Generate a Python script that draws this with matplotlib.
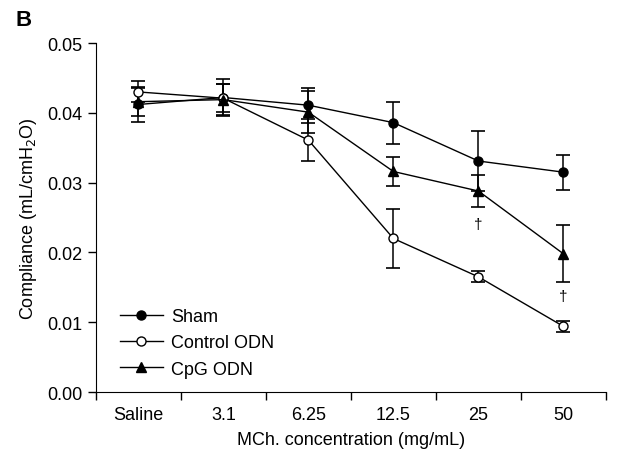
import matplotlib
matplotlib.use('Agg')
import matplotlib.pyplot as plt
from matplotlib.lines import Line2D
import numpy as np

plt.rcParams['font.family'] = ['Liberation Sans', 'DejaVu Sans']

# x categories
doses = ['Saline', '3.1', '6.25', '12.5', '25', '50']

# mean and error values
sham = [0.0412, 0.0422, 0.0411, 0.0386, 0.0331, 0.0315]
sham_err = [0.0025, 0.0026, 0.0025, 0.0030, 0.0043, 0.0025]

control = [0.0430, 0.0421, 0.0361, 0.0220, 0.0165, 0.0094]
control_err = [0.0015, 0.0020, 0.0030, 0.0042, 0.0008, 0.0008]

cpg = [0.0416, 0.0419, 0.0401, 0.0316, 0.0288, 0.0198]
cpg_err = [0.0020, 0.0022, 0.0030, 0.0021, 0.0023, 0.0041]

# daggers (position index, y value)
dagger_x = [4, 5]
dagger_y = [0.0241, 0.0138]

x = np.arange(len(doses))

fig = plt.figure(figsize=(6.26, 4.64), dpi=100)
ax = fig.add_axes([0.153, 0.153, 0.815, 0.752])

common = dict(color='black', lw=1, capsize=5, capthick=1.2, elinewidth=1.1, ms=6.5)

ax.errorbar(x, sham, yerr=sham_err, marker='o', mfc='black', mec='black', **common)
ax.errorbar(x, control, yerr=control_err, marker='o', mfc='white', mec='black', **common)
ax.errorbar(x, cpg, yerr=cpg_err, marker='^', mfc='black', mec='black', **common)

for xi, yi in zip(dagger_x, dagger_y):
    ax.text(xi, yi, '\u2020', ha='center', va='center', fontsize=11)

ax.set_xlim(-0.5, len(doses) - 0.5)
ax.set_ylim(0, 0.05)
ax.set_yticks([0, 0.01, 0.02, 0.03, 0.04, 0.05])
ax.set_yticklabels(['0.00', '0.01', '0.02', '0.03', '0.04', '0.05'])

# category labels between boundary ticks
ax.set_xticks(np.arange(-0.5, len(doses), 1.0))
ax.set_xticklabels([])
ax.set_xticks(x, minor=True)
ax.set_xticklabels(doses, minor=True)
ax.tick_params(axis='x', which='minor', length=0, pad=10)
ax.tick_params(axis='both', which='major', length=6, width=1, labelsize=13)
ax.tick_params(axis='x', which='minor', labelsize=13)

ax.spines['top'].set_visible(False)
ax.spines['right'].set_visible(False)

ax.set_xlabel('MCh. concentration (mg/mL)', fontsize=13, labelpad=6)
ax.set_ylabel('Compliance (mL/cmH$_2$O)', fontsize=13, labelpad=6)

# legend without error bars
handles = [
    Line2D([], [], color='black', lw=1, marker='o', mfc='black', ms=6.5),
    Line2D([], [], color='black', lw=1, marker='o', mfc='white', ms=6.5),
    Line2D([], [], color='black', lw=1, marker='^', mfc='black', ms=6.5),
]
ax.legend(handles, ['Sham', 'Control ODN', 'CpG ODN'], loc='lower left', frameon=False,
          fontsize=13, handlelength=2.4, handletextpad=0.45, labelspacing=0.5,
          bbox_to_anchor=(0.015, -0.005))

fig.text(0.025, 0.955, 'B', fontsize=16, fontweight='bold', va='center', ha='left')

fig.savefig('out.png', dpi=100)
